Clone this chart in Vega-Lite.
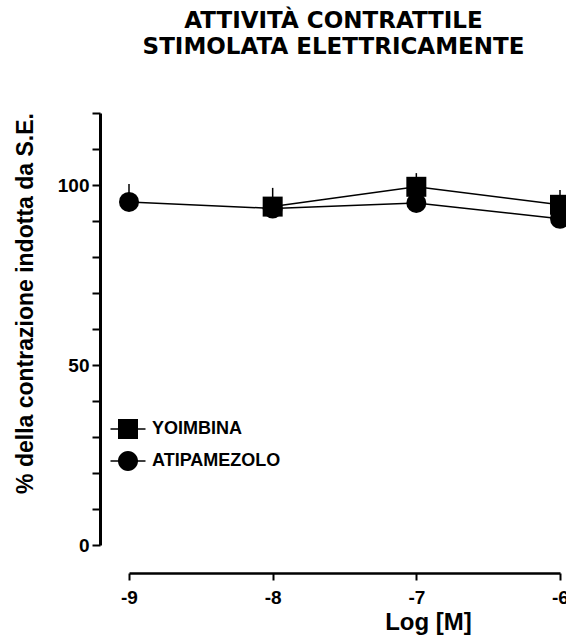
{
  "$schema": "https://vega.github.io/schema/vega-lite/v6.json",
  "autosize": {"type": "none"},
  "width": 431,
  "height": 432,
  "padding": {"left": 129, "top": 113, "right": 6, "bottom": 94},
  "background": "white",
  "title": {
    "text": ["ATTIVITÀ CONTRATTILE", "STIMOLATA ELETTRICAMENTE"],
    "font": "DejaVu Sans",
    "fontSize": 23,
    "fontWeight": "bold",
    "lineHeight": 26,
    "anchor": "middle",
    "dx": -11,
    "offset": 53,
    "color": "black"
  },
  "data": {
    "values": [
      {"drug": "ATIPAMEZOLO", "logM": -9, "mean": 95.3, "sem": 5.0},
      {"drug": "ATIPAMEZOLO", "logM": -8, "mean": 93.5, "sem": 3.0},
      {"drug": "ATIPAMEZOLO", "logM": -7, "mean": 95.0, "sem": 3.0},
      {"drug": "ATIPAMEZOLO", "logM": -6, "mean": 90.6, "sem": 3.0},
      {"drug": "YOIMBINA", "logM": -8, "mean": 94.0, "sem": 5.2},
      {"drug": "YOIMBINA", "logM": -7, "mean": 99.5, "sem": 3.8},
      {"drug": "YOIMBINA", "logM": -6, "mean": 94.5, "sem": 4.1}
    ]
  },
  "encoding": {
    "x": {
      "field": "logM", "type": "quantitative",
      "scale": {"domain": [-9, -6], "nice": false, "zero": false},
      "axis": {
        "values": [-9, -8, -7, -6],
        "labelExpr": "'' + datum.value",
        "offset": 28,
        "grid": false,
        "domainColor": "black", "domainWidth": 2.5,
        "tickColor": "black", "tickWidth": 2, "tickSize": 7,
        "labelFont": "Liberation Sans", "labelFontSize": 19, "labelFontWeight": "bold",
        "labelColor": "black", "labelPadding": 8, "labelFlush": false,
        "title": "Log [M]",
        "titleFont": "Liberation Sans", "titleFontSize": 24, "titleFontWeight": "bold",
        "titleColor": "black",
        "titleX": 299, "titleY": 56, "titleAlign": "center", "titleBaseline": "alphabetic"
      }
    },
    "y": {
      "field": "mean", "type": "quantitative",
      "scale": {"domain": [0, 120], "nice": false},
      "axis": {
        "values": [0, 10, 20, 30, 40, 50, 60, 70, 80, 90, 100, 110, 120],
        "labelExpr": "datum.value % 50 === 0 ? datum.label : ''",
        "offset": 29,
        "grid": false,
        "domainColor": "black", "domainWidth": 3,
        "tickColor": "black", "tickWidth": 2, "tickSize": 8,
        "labelFont": "Liberation Sans", "labelFontSize": 19, "labelFontWeight": "bold",
        "labelColor": "black", "labelPadding": 3, "labelFlush": false,
        "title": "% della contrazione indotta da S.E.",
        "titleFont": "Liberation Sans", "titleFontSize": 23, "titleFontWeight": "bold",
        "titleColor": "black",
        "titleX": -68, "titleY": 190, "titleAlign": "center", "titleBaseline": "alphabetic", "titleAngle": -90
      }
    }
  },
  "layer": [
    {
      "mark": {"type": "line", "color": "black", "strokeWidth": 1.5},
      "encoding": {"detail": {"field": "drug"}}
    },
    {
      "mark": {"type": "rule", "color": "black", "strokeWidth": 1.5},
      "encoding": {"y2": {"field": "top"}},
      "transform": [{"calculate": "datum.mean + datum.sem", "as": "top"}]
    },
    {
      "mark": {"type": "point", "filled": true, "size": 400, "color": "black", "opacity": 1},
      "encoding": {
        "shape": {
          "field": "drug", "type": "nominal",
          "scale": {"domain": ["YOIMBINA", "ATIPAMEZOLO"], "range": ["square", "circle"]},
          "legend": null
        }
      }
    },
    {
      "mark": {"type": "point", "filled": true, "size": 400, "color": "black", "opacity": 0},
      "encoding": {
        "shape": {
          "field": "drug", "type": "nominal",
          "scale": {
            "domain": ["YOIMBINA", "ATIPAMEZOLO"],
            "range": [
              "M-1.75,-0.08H1.75V0.08H-1.75ZM-1,-1H1V1H-1Z",
              "M-1.75,-0.08H1.75V0.08H-1.75ZM1,0A1,1,0,1,1,-1,0A1,1,0,1,1,1,0Z"
            ]
          },
          "legend": {
            "orient": "none",
            "legendX": -11,
            "legendY": 306,
            "title": null,
            "padding": 0,
            "symbolSize": 400,
            "symbolFillColor": "black",
            "symbolStrokeColor": "black",
            "symbolStrokeWidth": 0,
            "symbolOpacity": 1,
            "labelFont": "Liberation Sans", "labelFontSize": 18, "labelFontWeight": "bold",
            "labelColor": "black",
            "labelOffset": 14,
            "rowPadding": 12
          }
        }
      }
    }
  ],
  "resolve": {"scale": {"shape": "independent"}},
  "config": {"view": {"stroke": null}}
}
